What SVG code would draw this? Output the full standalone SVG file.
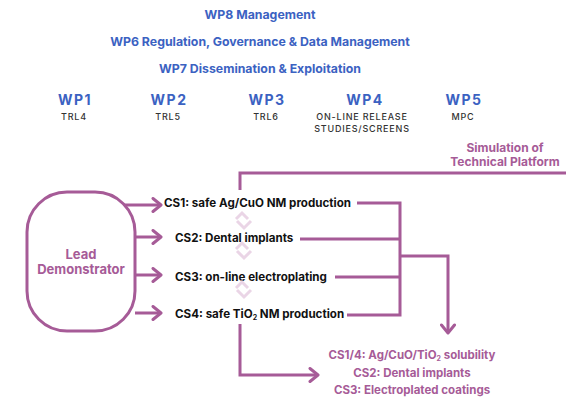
<svg xmlns="http://www.w3.org/2000/svg" width="573" height="399" viewBox="0 0 573 399">
<defs>
<marker id="ah" viewBox="0 0 12 16" refX="10" refY="8" markerWidth="12" markerHeight="16" markerUnits="userSpaceOnUse" orient="auto">
<path d="M2,1.5 L10,8 L2,14.5" fill="none" stroke="#a65b97" stroke-width="3" stroke-linecap="round" stroke-linejoin="round"/>
</marker>
</defs>
<style>
.hd{font-family:Inter,"Liberation Sans",sans-serif;font-weight:700;fill:#3b62c2;text-anchor:middle;font-size:12.3px}
.wp{font-family:Inter,"Liberation Sans",sans-serif;font-weight:700;fill:#3b62c2;text-anchor:middle;font-size:14px;letter-spacing:1.5px}
.trl{font-family:Inter,"Liberation Sans",sans-serif;font-weight:500;fill:#333;text-anchor:middle;font-size:9px;letter-spacing:0.8px}
.cs{font-family:Inter,"Liberation Sans",sans-serif;font-weight:700;fill:#111;font-size:11.6px}
.pu{font-family:Inter,"Liberation Sans",sans-serif;font-weight:700;fill:#a65b97;text-anchor:middle}
.ln{fill:none;stroke:#a65b97;stroke-width:3}
.ch{fill:none;stroke:#ead5e6;stroke-width:3}
</style>
<g id="headers">
<text class="hd" x="260" y="19">WP8 Management</text>
<text class="hd" x="260" y="46">WP6 Regulation, Governance &amp; Data Management</text>
<text class="hd" x="260" y="73">WP7 Dissemination &amp; Exploitation</text>
</g>
<g id="wp1"><text class="wp" x="75" y="105">WP1</text><text class="trl" x="74" y="120">TRL4</text></g>
<g id="wp2"><text class="wp" x="169" y="105">WP2</text><text class="trl" x="168" y="120">TRL5</text></g>
<g id="wp3"><text class="wp" x="267" y="105">WP3</text><text class="trl" x="266" y="120">TRL6</text></g>
<g id="wp4"><text class="wp" x="365" y="105">WP4</text><text class="trl" x="362" y="120">ON-LINE RELEASE</text><text class="trl" x="362" y="132">STUDIES/SCREENS</text></g>
<g id="wp5"><text class="wp" x="464" y="105">WP5</text><text class="trl" x="463" y="120">MPC</text></g>
<g id="sim"><text class="pu" x="505" y="152" font-size="12">Simulation of</text><text class="pu" x="505" y="166" font-size="12">Technical Platform</text></g>
<g id="lead">
<rect x="27" y="192" width="108" height="139" rx="40" ry="40" class="ln"/>
<text class="pu" x="81" y="259" font-size="13">Lead</text>
<text class="pu" x="81" y="274" font-size="13">Demonstrator</text>
</g>
<g id="cs1"><text class="cs" x="164" y="207">CS1: safe Ag/CuO NM production</text></g>
<g id="cs2"><text class="cs" x="175" y="242">CS2: Dental implants</text></g>
<g id="cs3"><text class="cs" x="175" y="281">CS3: on-line electroplating</text></g>
<g id="cs4"><text class="cs" x="175" y="318">CS4: safe TiO<tspan font-size="7" dy="2">2</tspan><tspan dy="-2"> NM production</tspan></text></g>
<g id="results">
<text class="pu" x="412" y="359" font-size="11.5">CS1/4: Ag/CuO/TiO<tspan font-size="7" dy="2">2</tspan><tspan dy="-2"> solubility</tspan></text>
<text class="pu" x="412" y="377" font-size="11.5">CS2: Dental implants</text>
<text class="pu" x="412" y="394" font-size="11.5">CS3: Electroplated coatings</text>
</g>
<g id="chevrons">
<path class="ch" d="M236,219 L242,213 L248,219 M237,221 L244,228 L251,221"/>
<path class="ch" d="M236,249 L242,243 L248,249 M237,251 L244,258 L251,251"/>
<path class="ch" d="M236,288 L242,282 L248,288 M237,290 L244,297 L251,290"/>
</g>
<g id="connectors">
<path class="ln" d="M124,205 L161,205" marker-end="url(#ah)"/>
<path class="ln" d="M135,237 L161,237" marker-end="url(#ah)"/>
<path class="ln" d="M135,275 L161,275" marker-end="url(#ah)"/>
<path class="ln" d="M135,313 L161,313" marker-end="url(#ah)"/>
<path class="ln" d="M240,190 L240,173 L566,173"/>
<path class="ln" d="M357,203 L400,203 L400,315 L347,315"/>
<path class="ln" d="M300,239 L400,239"/>
<path class="ln" d="M335,277 L400,277"/>
<path class="ln" d="M400,256 L448,256 L448,333" marker-end="url(#ah)"/>
<path class="ln" d="M240,324 L240,375 L318,375" marker-end="url(#ah)"/>
</g>
</svg>
